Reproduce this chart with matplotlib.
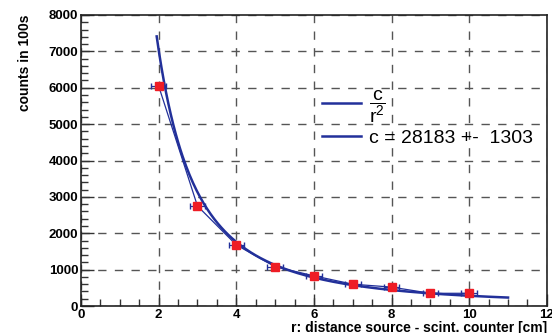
import numpy as np
import matplotlib
matplotlib.use("Agg")
from matplotlib import pyplot as plt
from matplotlib.lines import Line2D
from matplotlib.ticker import MultipleLocator

# measured points: distance [cm] vs counts in 100s
r_vals = [2, 3, 4, 5, 6, 7, 8, 9, 10]
counts = [6050, 2750, 1680, 1080, 830, 600, 520, 350, 350]
r_err = [0.2, 0.2, 0.2, 0.2, 0.2, 0.2, 0.2, 0.2, 0.2]

# fit result c / r^2
c_fit = 28183
c_err = 1303
fit_range = (1.95, 11.0)

blue = "#22309a"
red = "#ee1c25"

plt.rcParams['font.family'] = ['Liberation Sans', 'DejaVu Sans']
plt.rcParams['mathtext.fontset'] = 'custom'
plt.rcParams['mathtext.rm'] = 'Liberation Sans'
plt.rcParams['mathtext.it'] = 'Liberation Sans'

fig = plt.figure(figsize=(5.52, 3.33), dpi=100)
ax = fig.add_axes([0.1467, 0.081, 0.844, 0.874])

# data graph: line through points, x error bars, red squares
ax.errorbar(r_vals, counts, xerr=r_err, fmt='-', color=blue, lw=0.9,
            elinewidth=0.9, capsize=2, zorder=3)
ax.plot(r_vals, counts, 's', color=red, ms=6, zorder=5)

# fitted curve
rr = np.linspace(fit_range[0], fit_range[1], 300)
ax.plot(rr, c_fit / rr**2, color=blue, lw=1.8, zorder=4)

ax.set_xlim(0, 12)
ax.set_ylim(0, 8000)
ax.xaxis.set_major_locator(MultipleLocator(2))
ax.xaxis.set_minor_locator(MultipleLocator(0.5))
ax.yaxis.set_major_locator(MultipleLocator(1000))
ax.yaxis.set_minor_locator(MultipleLocator(200))
ax.tick_params(which='both', direction='in', width=1, color='#333333')
ax.tick_params(which='major', length=9, labelsize=9.5, pad=2)
ax.tick_params(which='minor', length=5)
for lab in ax.get_xticklabels() + ax.get_yticklabels():
    lab.set_fontweight('bold')

ax.grid(True, which='major', linestyle=(0, (6, 6)), color='#555555', lw=1)
for s in ax.spines.values():
    s.set_linewidth(1.2)
    s.set_color('#222222')

ax.set_xlabel("r: distance source - scint. counter [cm]", loc='right',
              fontsize=10, fontweight='bold', labelpad=0)
ax.set_ylabel("counts in 100s", loc='top', fontsize=10, fontweight='bold',
              labelpad=12)

handles = [Line2D([], [], color=blue, lw=1.8), Line2D([], [], color=blue, lw=1.8)]
labels = [r'$\dfrac{\mathrm{c}}{\mathrm{r}^{2}}$',
          "c = %d +-  %d" % (c_fit, c_err)]
leg = ax.legend(handles, labels, loc='upper left', bbox_to_anchor=(0.48, 0.805),
                frameon=False, fontsize=14, handlelength=2.0, handletextpad=0.4,
                labelspacing=0.2)

fig.savefig("out.png", dpi=100)
